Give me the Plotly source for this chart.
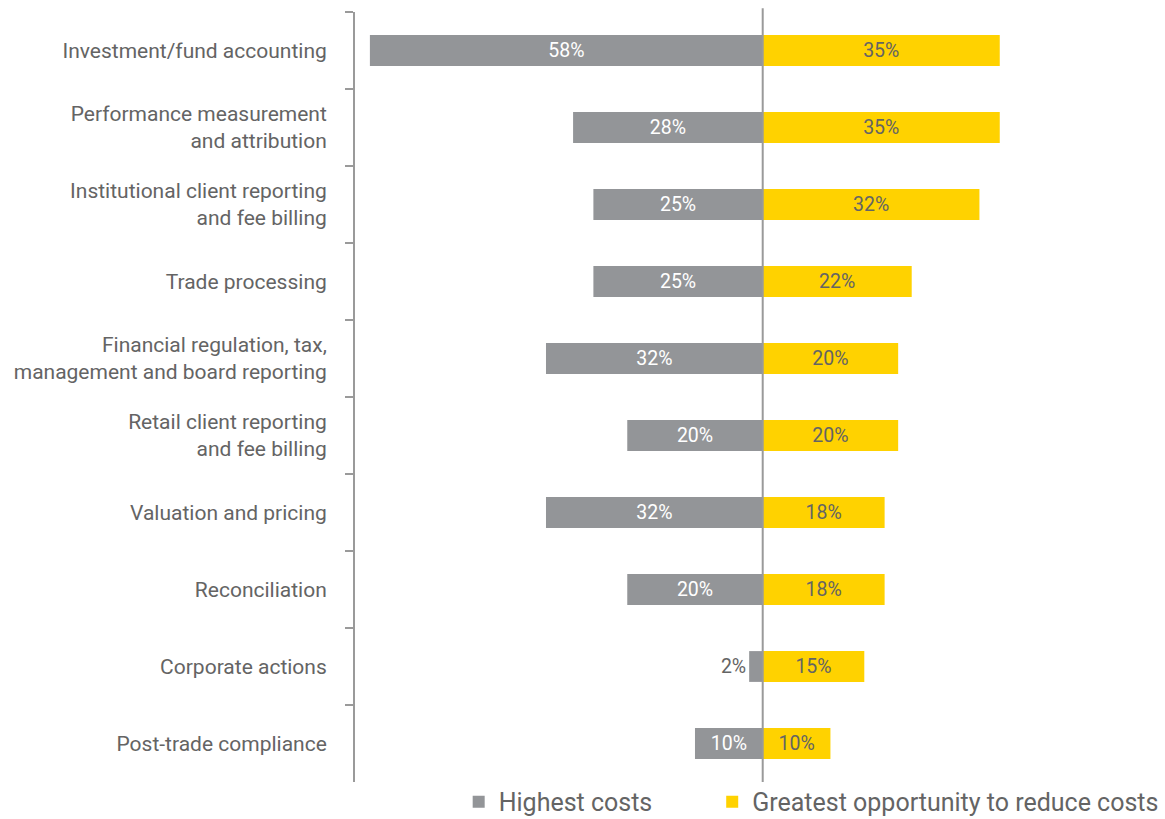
import plotly.graph_objects as go

categories = [
    "Investment/fund accounting",
    "Performance measurement<br>and attribution",
    "Institutional client reporting<br>and fee billing",
    "Trade processing",
    "Financial regulation, tax,<br>management and board reporting",
    "Retail client reporting<br>and fee billing",
    "Valuation and pricing",
    "Reconciliation",
    "Corporate actions",
    "Post-trade compliance",
]
highest_costs = [58, 28, 25, 25, 32, 20, 32, 20, 2, 10]
greatest_opportunity = [35, 35, 32, 22, 20, 20, 18, 18, 15, 10]
series_names = ["Highest costs", "Greatest opportunity to reduce costs"]

GREY = "#939598"
YELLOW = "#FFD200"
TEXT = "#646464"
LINE = "#9a9a9a"
FONT = "Roboto"

fig = go.Figure()
fig.add_trace(go.Bar(
    y=categories,
    x=[-v for v in highest_costs],
    orientation="h",
    name=series_names[0],
    legend="legend",
    marker=dict(color=GREY, line=dict(width=0)),
    text=[f"{v}%" for v in highest_costs],
    textposition=["inside" if v >= 5 else "outside" for v in highest_costs],
    insidetextanchor="middle",
    insidetextfont=dict(color="white", size=19.5, family=FONT),
    outsidetextfont=dict(color=TEXT, size=19.5, family=FONT),
    cliponaxis=False,
    width=0.4,
))
fig.add_trace(go.Bar(
    y=categories,
    x=greatest_opportunity,
    orientation="h",
    name=series_names[1],
    legend="legend2",
    marker=dict(color=YELLOW, line=dict(width=0)),
    text=[f"{v}%" for v in greatest_opportunity],
    textposition="inside",
    insidetextanchor="middle",
    insidetextfont=dict(color=TEXT, size=19.5, family=FONT),
    width=0.4,
))

legend_common = dict(
    orientation="h",
    yanchor="top",
    y=0.004,
    xanchor="left",
    font=dict(size=25, color=TEXT, family=FONT),
    bgcolor="rgba(0,0,0,0)",
)

fig.update_layout(
    barmode="relative",
    width=1165,
    height=819,
    margin=dict(l=355, r=0, t=12, b=37, autoexpand=False),
    plot_bgcolor="white",
    paper_bgcolor="white",
    font=dict(family=FONT, color=TEXT, size=21),
    showlegend=True,
    legend=dict(x=0.128, **legend_common),
    legend2=dict(x=0.441, **legend_common),
)
fig.update_xaxes(
    range=[-60.2, 59.4],
    showgrid=False,
    zeroline=False,
    showticklabels=False,
    showline=False,
    fixedrange=True,
)
fig.update_yaxes(
    autorange="reversed",
    automargin=False,
    showgrid=False,
    showline=True,
    linecolor=LINE,
    linewidth=2,
    ticks="outside",
    ticklen=8,
    tickwidth=2,
    tickcolor=LINE,
    tickson="boundaries",
    ticklabelstandoff=22,
    tickfont=dict(size=21, color=TEXT, family=FONT),
    fixedrange=True,
)
fig.add_shape(
    type="line", xref="x", yref="paper",
    x0=0, x1=0, y0=0, y1=1.005,
    line=dict(color=LINE, width=2),
    layer="above",
)

fig.write_html(
    "out.html",
    config={"displayModeBar": False},
    post_script="document.body.style.margin='0';document.body.style.overflow='hidden';",
)
